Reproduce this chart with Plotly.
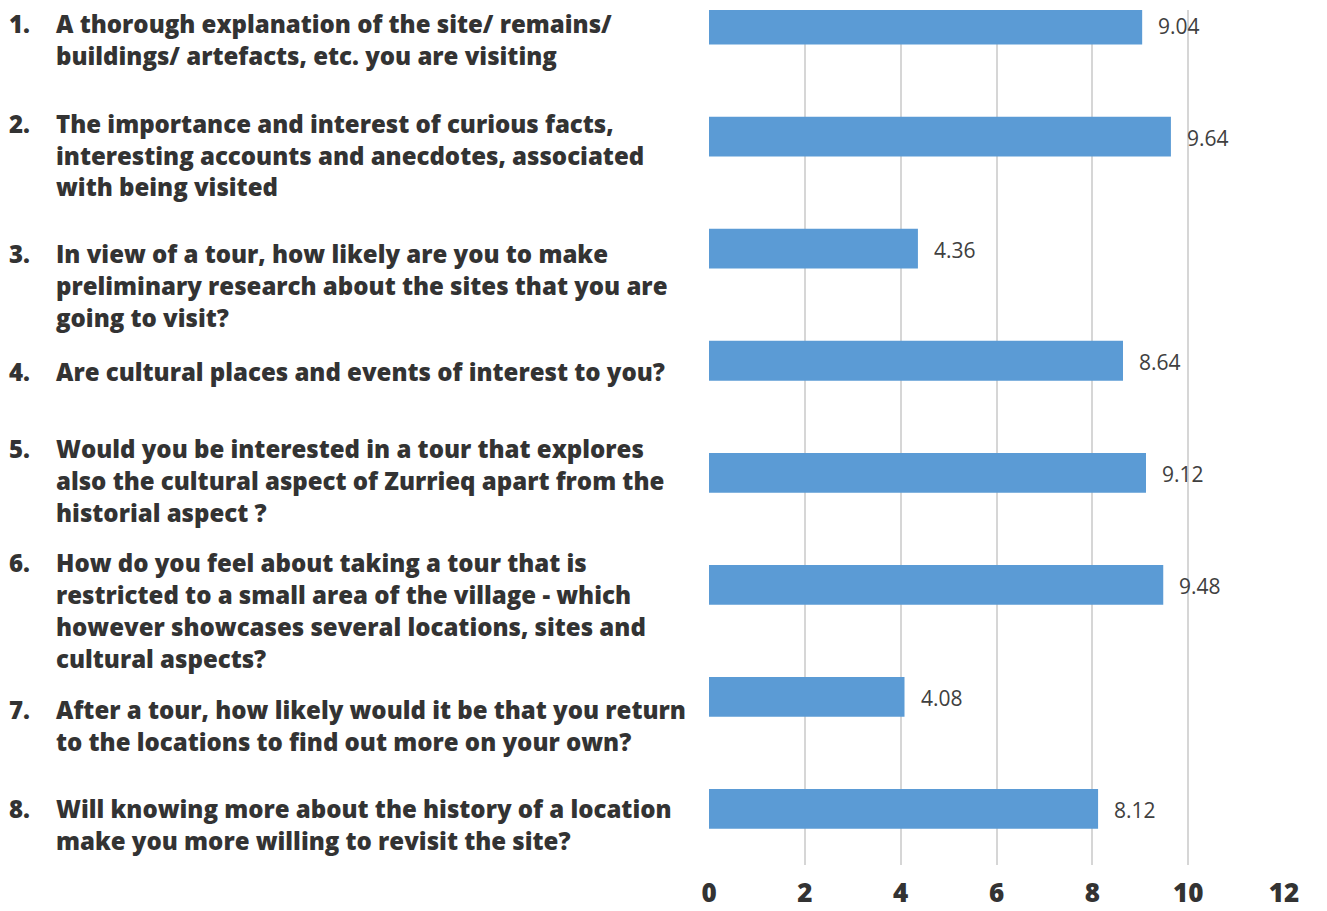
import plotly.graph_objects as go

# Survey items and mean scores
numbers = ["1.", "2.", "3.", "4.", "5.", "6.", "7.", "8."]
questions = [
    ["A thorough explanation of the site/ remains/",
     "buildings/ artefacts, etc. you are visiting"],
    ["The importance and interest of curious facts,",
     "interesting accounts and anecdotes, associated",
     "with being visited"],
    ["In view of a tour, how likely are you to make",
     "preliminary research about the sites that you are",
     "going to visit?"],
    ["Are cultural places and events of interest to you?"],
    ["Would you be interested in a tour that explores",
     "also the cultural aspect of Zurrieq apart from the",
     "historial aspect ?"],
    ["How do you feel about taking a tour that is",
     "restricted to a small area of the village - which",
     "however showcases several locations, sites and",
     "cultural aspects?"],
    ["After a tour, how likely would it be that you return",
     "to the locations to find out more on your own?"],
    ["Will knowing more about the history of a location",
     "make you more willing to revisit the site?"],
]
scores = [9.04, 9.64, 4.36, 8.64, 9.12, 9.48, 4.08, 8.12]
x_ticks = [0, 2, 4, 6, 8, 10, 12]

W, H = 1327, 911
ML, MR, MT, MB = 709, 43, 10, 46
plot_w = W - ML - MR
plot_h = H - MT - MB

BAR_COLOR = "#5b9bd5"
TEXT_COLOR = "#333333"
LABEL_FONT = "Open Sans"
LINE_PITCH = 32

positions = list(range(len(scores)))

fig = go.Figure(
    go.Bar(
        x=scores,
        y=positions,
        orientation="h",
        width=0.355,
        marker=dict(color=BAR_COLOR, line=dict(width=0)),
        hoverinfo="skip",
    )
)

# value labels next to each bar end
for i, v in enumerate(scores):
    fig.add_annotation(
        x=v, y=i, xref="x", yref="y",
        text=f"{v:.2f}", showarrow=False,
        xanchor="left", yanchor="middle", xshift=14, yshift=-1,
        font=dict(family="Open Sans", size=21, color="#404040"),
    )

# question text on the left (first-line centre, in page pixels)
first_line_px = [23, 123, 253, 371, 448, 562, 709, 808]


def px_to_paper_x(px):
    return (px - ML) / plot_w


def px_to_paper_y(py):
    return (H - MB - py) / plot_h


label_font = dict(family=LABEL_FONT, size=24, color=TEXT_COLOR, weight=800)

for num, lines, py in zip(numbers, questions, first_line_px):
    fig.add_annotation(
        x=px_to_paper_x(8), y=px_to_paper_y(py),
        xref="paper", yref="paper", text=num, showarrow=False,
        xanchor="left", yanchor="middle", font=label_font, borderpad=0,
    )
    for k, line in enumerate(lines):
        fig.add_annotation(
            x=px_to_paper_x(55), y=px_to_paper_y(py + k * LINE_PITCH),
            xref="paper", yref="paper", text=line, showarrow=False,
            xanchor="left", yanchor="middle", font=label_font, borderpad=0,
        )

fig.update_layout(
    width=W, height=H,
    margin=dict(l=ML, r=MR, t=MT, b=MB, pad=0),
    paper_bgcolor="white", plot_bgcolor="white",
    showlegend=False,
    bargap=0.64,
    xaxis=dict(
        range=[0, 12], tickvals=x_ticks, ticktext=[str(t) for t in x_ticks],
        showgrid=True, gridcolor="#d6d6d6", gridwidth=1.5,
        zeroline=False, showline=False, ticks="",
        tickfont=dict(family=LABEL_FONT, size=26, color=TEXT_COLOR, weight=800),
        ticklabelstandoff=10, automargin=False,
        fixedrange=True,
    ),
    yaxis=dict(
        range=[7.5, -0.13], showticklabels=False, showgrid=False,
        zeroline=False, showline=False, ticks="", fixedrange=True,
        automargin=False,
    ),
)

fig.write_html("out.html")
